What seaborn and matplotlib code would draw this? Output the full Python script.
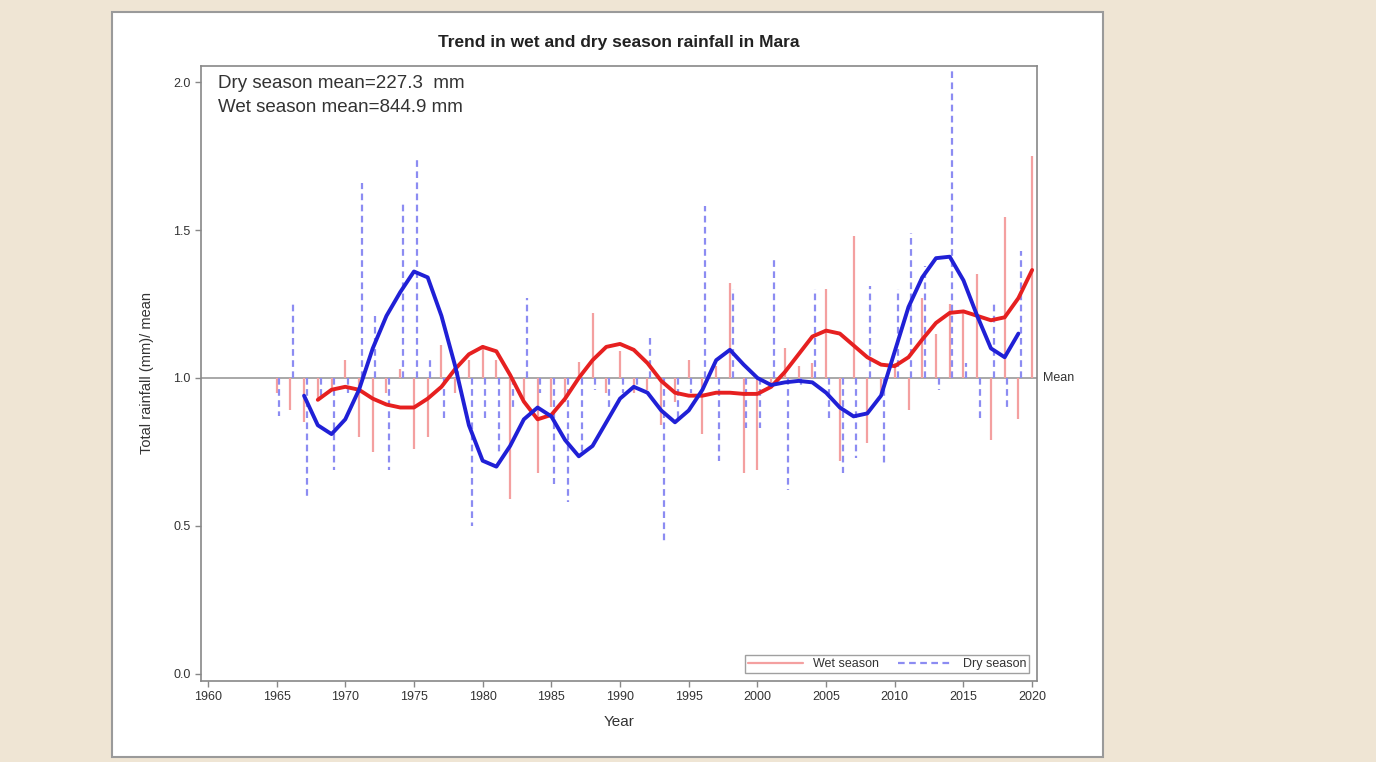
import numpy as np
import pandas as pd
import seaborn as sns
import matplotlib.pyplot as plt
from matplotlib.lines import Line2D
from matplotlib.patches import Rectangle
import matplotlib.transforms as mtransforms

#%% data (ratio of seasonal rainfall to its long-term mean)
years = list(range(1965, 2021))
wet = [0.95, 0.89, 0.85, 0.93, 0.96, 1.06, 0.80, 0.75, 0.95, 1.03,
       0.76, 0.80, 1.11, 0.95, 1.06, 1.11, 1.06, 0.59, 0.93, 0.68,
       0.90, 0.92, 1.055, 1.22, 0.95, 1.09, 0.95, 0.96, 0.84, 0.92,
       1.06, 0.81, 1.04, 1.32, 0.68, 0.69, 0.97, 1.10, 1.04, 1.05,
       1.30, 0.72, 1.48, 0.78, 0.95, 1.05, 0.89, 1.27, 1.15, 1.25,
       1.22, 1.35, 0.79, 1.545, 0.86, 1.75]
dry = [0.87, 1.25, 0.59, 0.93, 0.69, 0.95, 1.66, 1.21, 0.69, 1.60,
       1.75, 1.07, 0.85, 1.04, 0.50, 0.86, 0.74, 0.90, 1.27, 0.95,
       0.64, 0.58, 0.74, 0.96, 0.90, 0.95, 0.97, 1.14, 0.45, 0.86,
       0.95, 1.58, 0.72, 1.30, 0.83, 0.83, 1.40, 0.62, 0.97, 1.30,
       0.85, 0.68, 0.73, 1.31, 0.71, 1.30, 1.49, 1.38, 0.96, 2.05,
       1.05, 0.85, 1.25, 0.90, 1.43, np.nan]

# smoothed trend lines
wet_trend_years = list(range(1968, 2021))
wet_trend = [0.926, 0.96, 0.97, 0.96, 0.93, 0.91, 0.90, 0.90, 0.93, 0.97,
             1.03, 1.08, 1.105, 1.09, 1.01, 0.92, 0.86, 0.875, 0.93, 1.0,
             1.06, 1.105, 1.115, 1.095, 1.05, 0.99, 0.95, 0.94, 0.94, 0.95,
             0.95, 0.946, 0.946, 0.97, 1.02, 1.08, 1.14, 1.16, 1.15, 1.11,
             1.07, 1.045, 1.04, 1.07, 1.13, 1.186, 1.22, 1.225, 1.21, 1.195,
             1.205, 1.27, 1.365]
dry_trend_years = list(range(1967, 2020))
dry_trend = [0.94, 0.84, 0.81, 0.86, 0.96, 1.10, 1.21, 1.29, 1.36, 1.34,
             1.21, 1.04, 0.84, 0.72, 0.70, 0.77, 0.86, 0.90, 0.87, 0.79,
             0.735, 0.77, 0.85, 0.93, 0.97, 0.95, 0.89, 0.85, 0.89, 0.96,
             1.06, 1.095, 1.045, 1.0, 0.976, 0.985, 0.99, 0.985, 0.95, 0.90,
             0.87, 0.88, 0.94, 1.09, 1.24, 1.34, 1.405, 1.41, 1.33, 1.21,
             1.10, 1.07, 1.15]

dry_mean_mm = 227.3
wet_mean_mm = 844.9

#%% style
sns.set_style("ticks")
plt.rcParams['font.family'] = ['Liberation Sans', 'DejaVu Sans']
txt_col = '#333333'

fig = plt.figure(figsize=(13.76, 7.62), dpi=100)
fig.patch.set_facecolor('#efe5d4')
fig.add_artist(Rectangle((112 / 1376, 1 - 757 / 762), (1103 - 112) / 1376, (757 - 12) / 762,
                         transform=fig.transFigure, facecolor='white',
                         edgecolor='#9a9a9a', lw=1.5, zorder=0))
ax = fig.add_axes([0.1461, 0.1063, 0.6075, 0.8071])

#%% needles from the mean
yrs = np.array(years)
ax.vlines(yrs, 1.0, wet, colors='#f4a0a0', lw=1.6, zorder=2)
ax.vlines(yrs + 0.2, 1.0, dry, colors='#8c8cf2', lw=1.6,
          linestyles=(0, (3, 2)), zorder=2)
ax.axhline(1.0, color='#9a9a9a', lw=1.2, zorder=1)

#%% trend curves
df_wet = pd.DataFrame({'Year': wet_trend_years, 'ratio': wet_trend})
df_dry = pd.DataFrame({'Year': dry_trend_years, 'ratio': dry_trend})
sns.lineplot(data=df_wet, x='Year', y='ratio', color='#e62020', lw=2.8,
             solid_joinstyle='round', ax=ax, zorder=4)
sns.lineplot(data=df_dry, x='Year', y='ratio', color='#2020d6', lw=2.8,
             solid_joinstyle='round', ax=ax, zorder=4)

#%% axes
ax.set_xlim(1959.5, 2020.35)
ax.set_ylim(-0.025, 2.055)
ax.set_xticks(range(1960, 2021, 5))
ax.set_yticks([0.0, 0.5, 1.0, 1.5, 2.0])
ax.set_yticklabels(['0.0', '0.5', '1.0', '1.5', '2.0'])
ax.tick_params(labelsize=9, colors=txt_col, length=4, width=1, color='#888888')
for s in ax.spines.values():
    s.set_visible(True)
    s.set_color('#888888')
    s.set_linewidth(1.2)
ax.set_xlabel('Year', fontsize=11, color=txt_col, labelpad=8)
ax.set_ylabel('Total rainfall (mm)/ mean', fontsize=10.5, color=txt_col, labelpad=14)
ax.set_title('Trend in wet and dry season rainfall in Mara', fontsize=12.5,
             fontweight='bold', color='#222222', pad=14)

ax.text(0.02, 0.985, f'Dry season mean={dry_mean_mm}  mm', transform=ax.transAxes,
        fontsize=13.5, color=txt_col, va='top')
ax.text(0.02, 0.947, f'Wet season mean={wet_mean_mm} mm', transform=ax.transAxes,
        fontsize=13.5, color=txt_col, va='top')

trans = mtransforms.blended_transform_factory(ax.transAxes, ax.transData)
ax.text(1.007, 1.0, 'Mean', transform=trans, fontsize=9, color=txt_col, va='center')

handles = [Line2D([], [], color='#f4a0a0', lw=1.6),
           Line2D([], [], color='#8c8cf2', lw=1.6, ls=(0, (3, 2)))]
leg = ax.legend(handles, ['Wet season', 'Dry season'], loc='lower right', ncol=2,
                fontsize=9, handlelength=4.4, frameon=True, fancybox=False,
                borderaxespad=0.6, borderpad=0.25, columnspacing=1.5)
leg.get_frame().set_edgecolor('#888888')
leg.get_frame().set_linewidth(1.0)
for t in leg.get_texts():
    t.set_color(txt_col)

fig.savefig('out.png', dpi=100, facecolor=fig.get_facecolor())
